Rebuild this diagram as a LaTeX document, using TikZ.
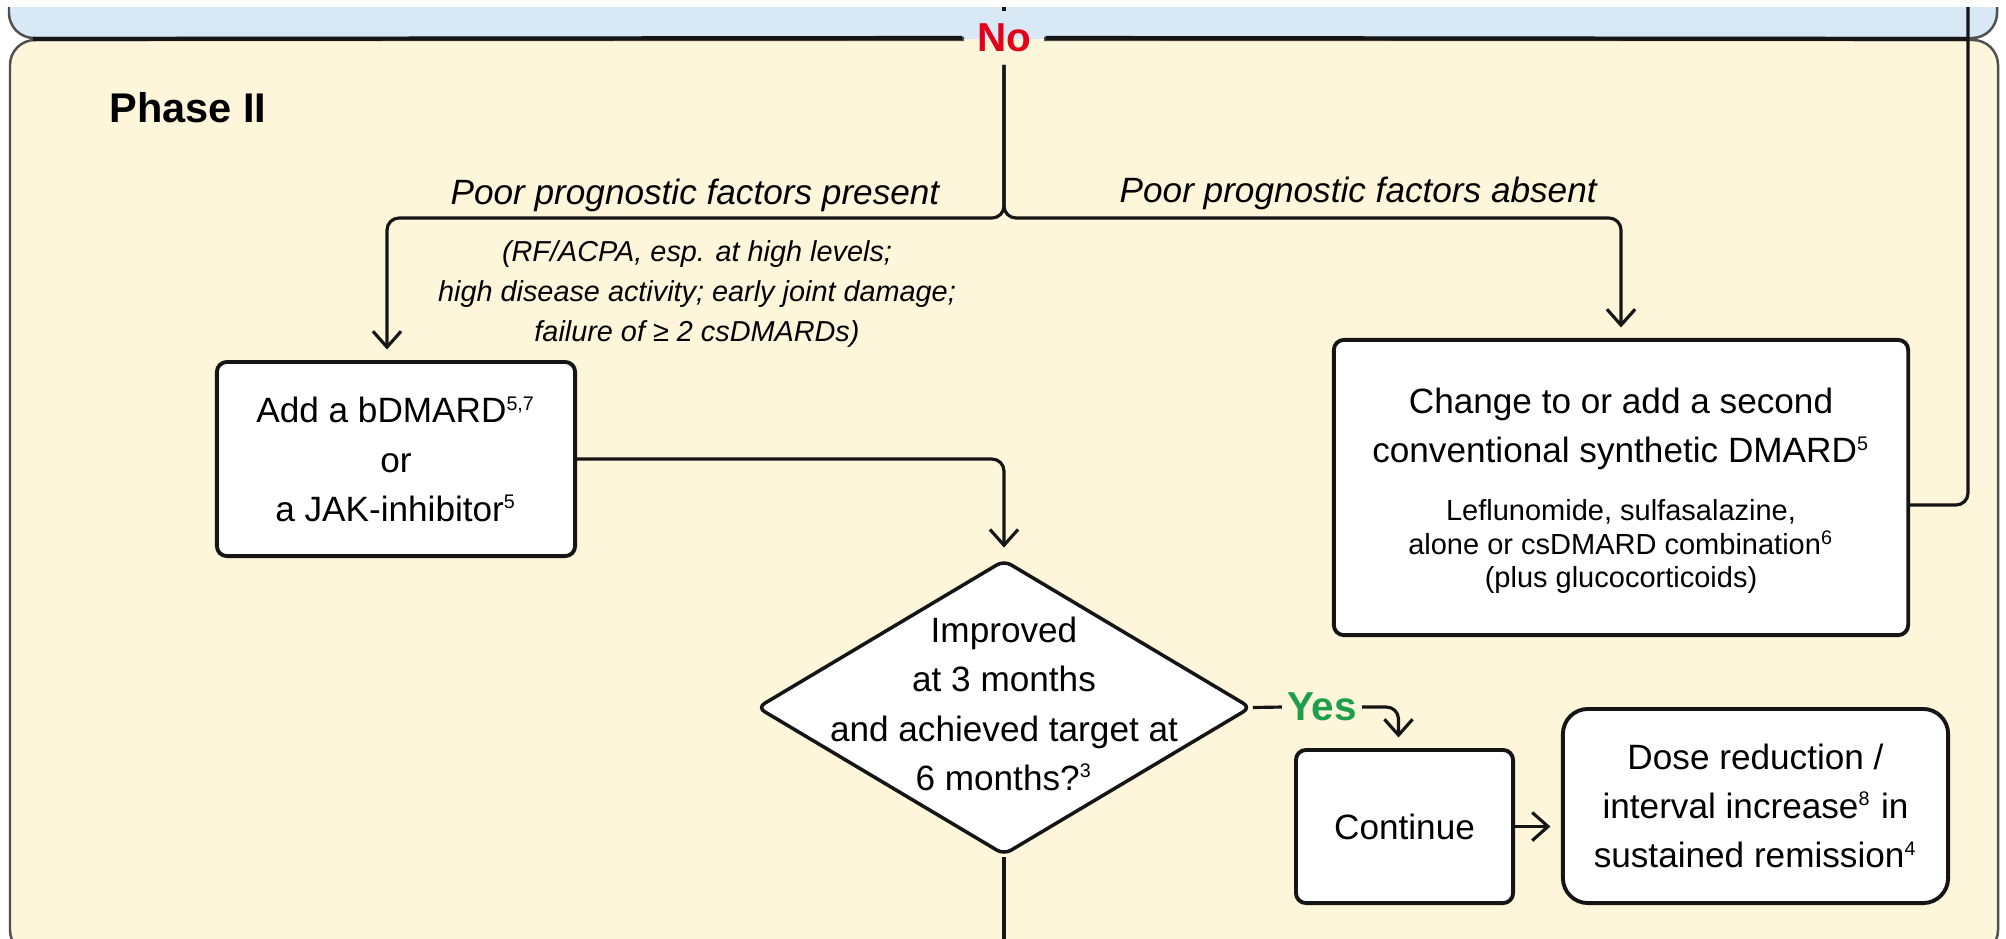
\documentclass[tikz,border=0pt]{standalone}
\usepackage{fontspec}
\setmainfont{Liberation Sans}
\usetikzlibrary{arrows.meta,shapes.geometric}
\usepackage{xcolor}
\definecolor{ink}{HTML}{151515}
\definecolor{skyband}{HTML}{D8E9F5}
\definecolor{cream}{HTML}{FDF6DB}
\definecolor{edge}{HTML}{505050}
\definecolor{nored}{HTML}{E3001B}
\definecolor{yesgreen}{HTML}{1E9E48}
\newcommand{\drugfont}{\fontsize{8.25}{9.5}\selectfont}
\newcommand{\refmark}[1]{\textsuperscript{\fontsize{5.6}{6}\selectfont #1}}

\begin{document}
\begin{tikzpicture}[x=0.01cm,y=-0.01cm,font=\fontsize{10}{14}\selectfont,
        box/.style={rectangle,rounded corners=0.1cm,draw=ink,fill=white,line width=1.1pt,
                    align=center,inner sep=0pt},
        dec/.style={diamond,rounded corners=0.08cm,draw=ink,fill=white,line width=1pt,inner sep=0pt},
        yesno/.style={font=\fontsize{11.5}{14}\selectfont\bfseries,inner xsep=4pt,inner ysep=3.4pt},
        factor/.style={font=\fontsize{10}{14}\selectfont\itshape,inner sep=0pt},
        flow/.style={draw=ink,line width=0.9pt,rounded corners=0.12cm},
        arr/.style={flow,-{Straight Barb[length=4.5pt,width=8pt]},shorten >=3pt},
        band/.style={draw=ink,line width=1.2pt},
        rim/.style={draw=edge,line width=0.7pt,rounded corners=0.25cm}]
        \useasboundingbox (0,0) rectangle (2006,938);
        \clip (0,0) rectangle (2006,938);
        \fill[white] (0,0) rectangle (2006,938);
        \coordinate (noL) at (964,38);
        \coordinate (noR) at (1044,38);
        \fill[skyband,rounded corners=0.25cm] (9,7) -- (9,39) -- (1997,39) -- (1997,7);
        \fill[cream,rounded corners=0.25cm] (10,39) rectangle (1998,955);
        \draw[rim] (9,7) -- (9,38) -- (noL);
        \draw[rim] (noR) -- (1997,38) -- (1997,7);
        \draw[rim] (964,40) -- (10,40) -- (10,955) -- (1998,955) -- (1998,40) -- (1044,40);

        \node[font=\fontsize{11.8}{14}\selectfont\bfseries,anchor=west,inner sep=0pt] (phase) at (109,108) {Phase II};
        \node[yesno,text=nored] (no) at (1004,38) {No};
        \node[factor,anchor=east] (present) at (940,195) {Poor prognostic factors present};
        \node[factor,anchor=west] (absent) at (1119,193) {Poor prognostic factors absent};
        \node[factor,font=\fontsize{8.2}{11.5}\selectfont\itshape,align=center] (factors) at (697,294)
          {(RF/ACPA, esp. at high levels;\\high disease activity; early joint damage;\\failure of ≥ 2 csDMARDs)};

        \node[box,minimum width=3.58cm,minimum height=1.94cm] (lbox) at (396,459)
          {Add a bDMARD\refmark{5,7}\\or\\a JAK-inhibitor\refmark{5}};
        \node[box,minimum width=5.74cm,minimum height=2.95cm] (rbox) at (1621,487.5) {};
        \node[align=center,inner sep=0pt] (rtext) at (1621,491)
          {Change to or add a second\\conventional synthetic DMARD\refmark{5}\\[2.3pt]
           {\drugfont Leflunomide, sulfasalazine,}\\[-4.4pt]
           {\drugfont alone or csDMARD combination\refmark{6}}\\[-4.4pt]
           {\drugfont (plus glucocorticoids)}};
        \node[dec,minimum width=4.94cm,minimum height=2.95cm] (dia) at (1004,707.5) {};
        \node[align=center,inner sep=0pt] (diatext) at (1004,704)
          {Improved\\at 3 months\\and achieved target at\\6 months?\refmark{3}};
        \node[yesno,text=yesgreen,inner xsep=1.3pt] (yes) at (1322,707) {Yes};
        \node[box,minimum width=2.17cm,minimum height=1.53cm] (cont) at (1404.5,826.5) {Continue};
        \node[box,rounded corners=0.25cm,minimum width=3.85cm,minimum height=1.94cm] (dose) at (1755.5,806)
          {Dose reduction /\\interval increase\refmark{8} in\\sustained remission\refmark{4}};

        \coordinate (intop) at (1004,7);
        \coordinate (jn) at (1004,218);
        \coordinate (bandL) at (33,39);
        \coordinate (fbband) at (1968,39);
        \coordinate (fbtop) at (1968,7);
        \coordinate (out) at (1004,960);

        \draw[band] (bandL) -- (no.west);
        \draw[band] (no.east) -- (fbband);
        \draw[flow] (intop) -- (no.north);
        \draw[arr] (no.south) -- (jn) -| ([xshift=-0.09cm]lbox.north);
        \draw[arr] (no.south) -- (jn) -| (rbox.north);
        \draw[arr] (lbox.east) -| (dia.north);
        \draw[flow] (dia.east) -- (yes.west);
        \draw[arr] (yes.east) -| ([xshift=-0.06cm]cont.north);
        \draw[arr] (cont.east) -- (cont.east -| dose.west);
        \draw[flow] (dia.south) -- (out);
        \draw[flow] ([yshift=-0.175cm]rbox.east) -| (fbtop);
      \end{tikzpicture}
\end{document}
